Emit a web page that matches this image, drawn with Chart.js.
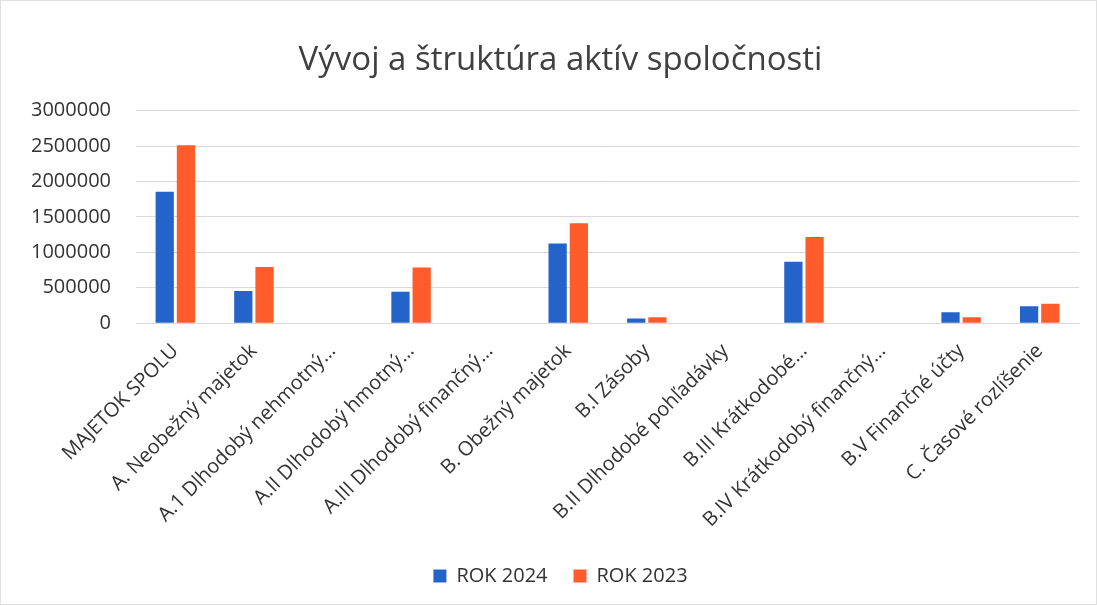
<!DOCTYPE html>
<html>
<head>
<meta charset="utf-8">
<script src="https://cdn.jsdelivr.net/npm/chart.js@4.4.0/dist/chart.umd.min.js"></script>
<style>
  html, body { margin: 0; padding: 0; background: #fff; }
  #wrap { position: relative; width: 1095px; height: 603px; border: 1px solid #e0e0e0; }
</style>
</head>
<body>
<div id="wrap"><canvas id="assetChart"></canvas></div>
<script>
const categories = [
    'MAJETOK SPOLU',
    'A. Neobežný majetok',
    'A.1 Dlhodobý nehmotný…',
    'A.II Dlhodobý hmotný…',
    'A.III Dlhodobý finančný…',
    'B. Obežný majetok',
    'B.I Zásoby',
    'B.II Dlhodobé pohľadávky',
    'B.III Krátkodobé…',
    'B.IV Krátkodobý finančný…',
    'B.V Finančné účty',
    'C. Časové rozlíšenie'
];
const rok2024 = [1855000, 453000, 0, 445000, 0, 1123000, 67000, 0, 868000, 0, 156000, 241000];
const rok2023 = [2510000, 793000, 0, 785000, 0, 1412000, 85000, 0, 1218000, 0, 85000, 273000];
const yTicks = [0, 500000, 1000000, 1500000, 2000000, 2500000, 3000000];

const FONT = 'Open Sans';
const TEXT = '#333333';

// title and legend sit a bit right of the canvas centre in the original
const shiftBlocks = {
    id: 'shiftBlocks',
    afterLayout(chart) {
        const dx = 18;
        [chart.titleBlock, chart.legend].forEach(b => {
            if (b) { b.left += dx; b.right += dx; }
        });
    }
};

const ctx = document.getElementById('assetChart').getContext('2d');

window.assetChart = new Chart(ctx, {
    type: 'bar',
    data: {
        labels: categories,
        datasets: [{
            label: 'ROK 2024',
            data: rok2024,
            backgroundColor: '#2463c9',
            barPercentage: 0.86,
            categoryPercentage: 0.54
        }, {
            label: 'ROK 2023',
            data: rok2023,
            backgroundColor: '#ff5b2b',
            barPercentage: 0.86,
            categoryPercentage: 0.54
        }]
    },
    plugins: [shiftBlocks],
    options: {
        responsive: true,
        maintainAspectRatio: false,
        animation: false,
        layout: { padding: { left: 5, right: 17, top: 10, bottom: 8 } },
        plugins: {
            title: {
                display: true,
                text: 'Vývoj a štruktúra aktív spoločnosti',
                color: '#404040',
                font: { family: FONT, size: 33, weight: 'normal' },
                padding: { top: 30, bottom: 30 }
            },
            legend: {
                position: 'bottom',
                labels: {
                    boxWidth: 13,
                    boxHeight: 13,
                    padding: 26,
                    color: TEXT,
                    font: { family: FONT, size: 20 }
                }
            },
            tooltip: { enabled: false }
        },
        scales: {
            x: {
                grid: { display: false },
                border: { color: '#d9d9d9' },
                afterFit: (scale) => { scale.paddingLeft = 0; },
                ticks: {
                    color: TEXT,
                    font: { family: FONT, size: 20 },
                    minRotation: 45,
                    maxRotation: 45,
                    autoSkip: false,
                    padding: 8
                }
            },
            y: {
                min: 0,
                max: 3000000,
                afterBuildTicks: (axis) => {
                    axis.ticks = yTicks.map(v => ({ value: v }));
                },
                grid: { color: '#d9d9d9', drawTicks: false },
                border: { display: false },
                ticks: {
                    color: TEXT,
                    font: { family: FONT, size: 20 },
                    padding: 25,
                    callback: (v) => String(v)
                }
            }
        }
    }
});
</script>
</body>
</html>
